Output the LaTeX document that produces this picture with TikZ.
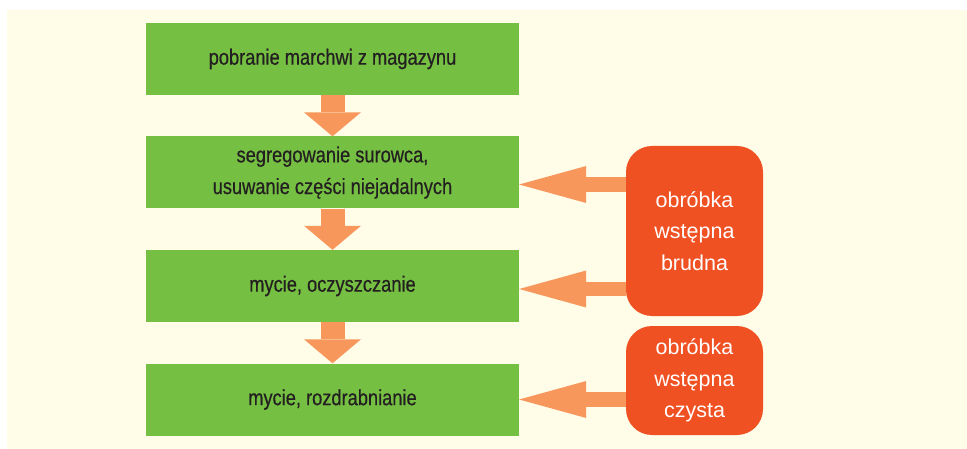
\documentclass[tikz,border=0pt]{standalone}
\usepackage{fontspec}
\setmainfont{Liberation Sans}
\newfontfamily\condfont[FakeStretch=0.83, FakeBold=0.5]{Liberation Sans}
\usetikzlibrary{arrows.meta}

\definecolor{stepgreen}{RGB}{117,191,67}
\definecolor{prepred}{RGB}{240,81,35}
\definecolor{flowarrow}{RGB}{247,151,92}
\definecolor{cream}{RGB}{255,252,232}
\definecolor{darktext}{RGB}{35,31,32}

\begin{document}
\begin{tikzpicture}[x=1pt, y=-1pt, node distance=113.5pt,
    stepbox/.style={rectangle, fill=stepgreen, minimum width=373pt, minimum height=72pt, inner sep=0pt, align=center, text=darktext, font=\condfont\fontsize{22}{31.7}\selectfont},
    prepbox/.style={rectangle, rounded corners=26pt, fill=prepred, minimum width=137pt, inner sep=0pt, align=center, text=white, font=\fontsize{21.5}{31.7}\selectfont},
    downarrow/.style={color=flowarrow, line width=24pt, -{Triangle[length=24pt, width=57pt, line width=0pt]}},
    sidearrow/.style={color=flowarrow, line width=14.5pt, -{Triangle[length=67pt, width=37pt, line width=0pt]}},
]
                        \useasboundingbox (0,0) rectangle (967,449);
                        \fill[cream] (7,10) rectangle (967,449);

                        \node [stepbox](1) at (332.5,59){pobranie marchwi z magazynu};
                        \node [stepbox](2) [below of = 1]{segregowanie surowca,\\usuwanie części niejadalnych};
                        \node [stepbox](3) [below of = 2]{mycie, oczyszczanie};
                        \node [stepbox](4) [below of = 3]{mycie, rozdrabnianie};

                        \node [prepbox, minimum height=170pt](5) at (694.5,231){obróbka\\wstępna\\brudna};
                        \node [prepbox, minimum height=109pt](6) at (694.5,380.5){obróbka\\wstępna\\czysta};

                        \coordinate (t1) at ([yshift=-12pt]2.east);
                        \coordinate (t2) at ([yshift=-3pt]3.east);
                        \coordinate (t3) at (4.east);
                        \coordinate (s1) at (t1 -| 5.west);
                        \coordinate (s2) at (t2 -| 5.west);
                        \coordinate (s3) at (t3 -| 6.west);

                        \path[downarrow]
                            (1) edge (2)
                            (2) edge (3)
                            (3) edge (4)
                        ;
                        \path[sidearrow]
                            (s1) edge (t1)
                            (s2) edge (t2)
                            (s3) edge (t3)
                        ;
                    \end{tikzpicture}
\end{document}
